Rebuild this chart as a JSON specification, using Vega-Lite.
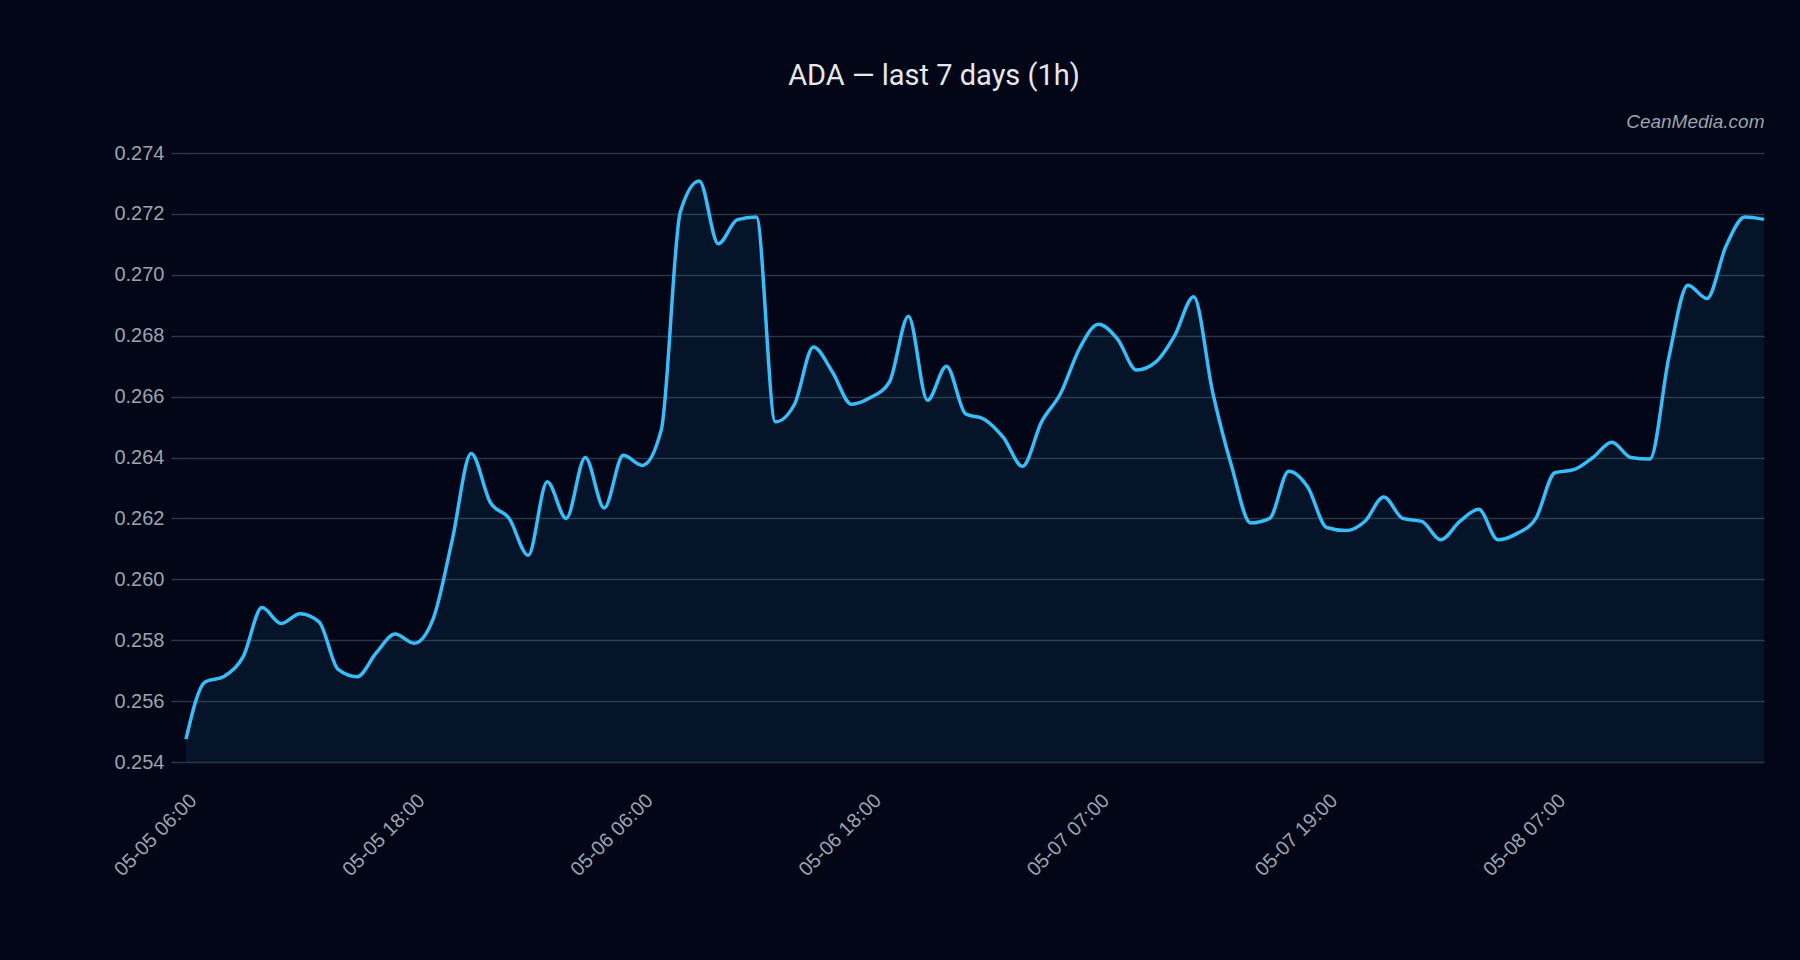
{
  "$schema": "https://vega.github.io/schema/vega-lite/v6.json",
  "description": "ADA hourly price, last 7 days (1h)",
  "autosize": "none",
  "width": 1578,
  "height": 609,
  "padding": {"left": 186, "top": 153, "right": 36, "bottom": 198},
  "background": "#020617",
  "title": {
    "text": "ADA — last 7 days (1h)",
    "anchor": "middle",
    "frame": "group",
    "dx": -41,
    "offset": -2,
    "baseline": "alphabetic",
    "font": "Roboto",
    "fontSize": 29,
    "fontWeight": "normal",
    "color": "#e5e7eb"
  },
  "data": {
    "values": [
      {"t": "05-05 06:00", "p": 0.25475},
      {"t": "05-05 07:00", "p": 0.25663},
      {"t": "05-05 08:00", "p": 0.25681},
      {"t": "05-05 09:00", "p": 0.25745},
      {"t": "05-05 10:00", "p": 0.25907},
      {"t": "05-05 11:00", "p": 0.25855},
      {"t": "05-05 12:00", "p": 0.25887},
      {"t": "05-05 13:00", "p": 0.2586},
      {"t": "05-05 14:00", "p": 0.25704},
      {"t": "05-05 15:00", "p": 0.2568},
      {"t": "05-05 16:00", "p": 0.25758},
      {"t": "05-05 17:00", "p": 0.2582},
      {"t": "05-05 18:00", "p": 0.2579},
      {"t": "05-05 19:00", "p": 0.2587},
      {"t": "05-05 20:00", "p": 0.26128},
      {"t": "05-05 21:00", "p": 0.26413},
      {"t": "05-05 22:00", "p": 0.26253},
      {"t": "05-05 23:00", "p": 0.262},
      {"t": "05-06 00:00", "p": 0.26079},
      {"t": "05-06 01:00", "p": 0.2632},
      {"t": "05-06 02:00", "p": 0.262},
      {"t": "05-06 03:00", "p": 0.264},
      {"t": "05-06 04:00", "p": 0.26234},
      {"t": "05-06 05:00", "p": 0.26407},
      {"t": "05-06 06:00", "p": 0.26374},
      {"t": "05-06 07:00", "p": 0.26491},
      {"t": "05-06 08:00", "p": 0.27206},
      {"t": "05-06 09:00", "p": 0.27308},
      {"t": "05-06 10:00", "p": 0.27102},
      {"t": "05-06 11:00", "p": 0.27181},
      {"t": "05-06 12:00", "p": 0.2719},
      {"t": "05-06 13:00", "p": 0.26517},
      {"t": "05-06 14:00", "p": 0.26574},
      {"t": "05-06 15:00", "p": 0.26763},
      {"t": "05-06 16:00", "p": 0.26681},
      {"t": "05-06 17:00", "p": 0.26575},
      {"t": "05-06 18:00", "p": 0.26597},
      {"t": "05-06 19:00", "p": 0.26648},
      {"t": "05-06 20:00", "p": 0.26864},
      {"t": "05-06 21:00", "p": 0.26588},
      {"t": "05-06 22:00", "p": 0.267},
      {"t": "05-06 23:00", "p": 0.26544},
      {"t": "05-07 01:00", "p": 0.26525},
      {"t": "05-07 02:00", "p": 0.26465},
      {"t": "05-07 03:00", "p": 0.26371},
      {"t": "05-07 04:00", "p": 0.26517},
      {"t": "05-07 05:00", "p": 0.2661},
      {"t": "05-07 06:00", "p": 0.26758},
      {"t": "05-07 07:00", "p": 0.26838},
      {"t": "05-07 08:00", "p": 0.26789},
      {"t": "05-07 09:00", "p": 0.26687},
      {"t": "05-07 10:00", "p": 0.26713},
      {"t": "05-07 11:00", "p": 0.268},
      {"t": "05-07 12:00", "p": 0.26928},
      {"t": "05-07 13:00", "p": 0.26615},
      {"t": "05-07 14:00", "p": 0.26371},
      {"t": "05-07 15:00", "p": 0.26185},
      {"t": "05-07 16:00", "p": 0.262},
      {"t": "05-07 17:00", "p": 0.26355},
      {"t": "05-07 18:00", "p": 0.26303},
      {"t": "05-07 19:00", "p": 0.2617},
      {"t": "05-07 20:00", "p": 0.2616},
      {"t": "05-07 21:00", "p": 0.2619},
      {"t": "05-07 22:00", "p": 0.2627},
      {"t": "05-07 23:00", "p": 0.262},
      {"t": "05-08 00:00", "p": 0.2619},
      {"t": "05-08 01:00", "p": 0.2613},
      {"t": "05-08 02:00", "p": 0.2619},
      {"t": "05-08 03:00", "p": 0.2623},
      {"t": "05-08 04:00", "p": 0.2613},
      {"t": "05-08 05:00", "p": 0.2615},
      {"t": "05-08 06:00", "p": 0.262},
      {"t": "05-08 07:00", "p": 0.2635},
      {"t": "05-08 08:00", "p": 0.2636},
      {"t": "05-08 09:00", "p": 0.264},
      {"t": "05-08 10:00", "p": 0.2645},
      {"t": "05-08 11:00", "p": 0.264},
      {"t": "05-08 12:00", "p": 0.26395},
      {"t": "05-08 13:00", "p": 0.2673},
      {"t": "05-08 14:00", "p": 0.26966},
      {"t": "05-08 15:00", "p": 0.26922},
      {"t": "05-08 16:00", "p": 0.27094},
      {"t": "05-08 17:00", "p": 0.2719},
      {"t": "05-08 18:00", "p": 0.27182}
    ]
  },
  "encoding": {
    "y": {
      "field": "p",
      "type": "quantitative",
      "title": null,
      "scale": {"domain": [0.254, 0.274], "zero": false, "nice": false},
      "axis": {
        "values": [0.254, 0.256, 0.258, 0.26, 0.262, 0.264, 0.266, 0.268, 0.27, 0.272, 0.274],
        "format": ".3f",
        "domain": false,
        "grid": true,
        "gridColor": "#2b3545",
        "gridWidth": 1.5,
        "ticks": true,
        "tickSize": 15,
        "tickColor": "#2b3545",
        "tickWidth": 1.5,
        "labelPadding": 7,
        "labelFont": "Liberation Sans",
        "labelFontSize": 20,
        "labelColor": "#9ca3af"
      }
    }
  },
  "layer": [
    {
      "mark": {"type": "area", "interpolate": "monotone", "color": "#38bdf8", "opacity": 0.08},
      "encoding": {
        "x": {
          "field": "t",
          "type": "ordinal",
          "sort": null,
          "title": null,
          "scale": {"type": "point", "padding": 0},
          "axis": {
            "orient": "bottom",
            "values": ["05-05 06:00", "05-05 18:00", "05-06 06:00", "05-06 18:00", "05-07 07:00", "05-07 19:00", "05-08 07:00"],
            "labelAngle": -45,
            "labelAlign": "right",
            "labelBaseline": "top",
            "domain": false,
            "grid": false,
            "ticks": false,
            "tickSize": 0,
            "labelPadding": 28,
            "labelFont": "Liberation Sans",
            "labelFontSize": 20,
            "labelColor": "#9ca3af"
          }
        },
        "y2": {"datum": 0.254}
      }
    },
    {
      "mark": {"type": "line", "interpolate": "monotone", "color": "#38bdf8", "strokeWidth": 3.5},
      "encoding": {
        "x": {
          "field": "t",
          "type": "ordinal",
          "sort": null,
          "scale": {"type": "point", "padding": 0},
          "axis": {
            "orient": "top",
            "title": "CeanMedia.com",
            "titleAnchor": "end",
            "titleAlign": "right",
            "titleBaseline": "alphabetic",
            "titlePadding": 26,
            "titleFont": "Liberation Sans",
            "titleFontSize": 19,
            "titleFontStyle": "italic",
            "titleFontWeight": "normal",
            "titleColor": "#9ca3af",
            "labels": false,
            "ticks": false,
            "tickSize": 0,
            "domain": false,
            "grid": false
          }
        }
      }
    }
  ],
  "resolve": {"axis": {"x": "independent"}},
  "config": {"view": {"stroke": null}}
}
